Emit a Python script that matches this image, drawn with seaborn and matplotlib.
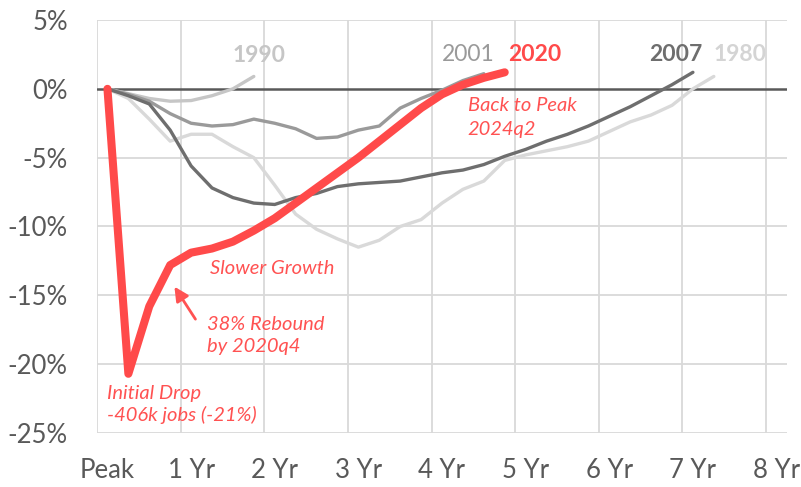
import numpy as np
import pandas as pd
import matplotlib
matplotlib.use("Agg")
import matplotlib.pyplot as plt
import seaborn as sns

# ---- data (percent change in jobs since peak, quarterly) ----
x_labels = ["Peak", "1 Yr", "2 Yr", "3 Yr", "4 Yr", "5 Yr", "6 Yr", "7 Yr", "8 Yr"]

r1980 = [0, -0.7, -2.2, -3.8, -3.3, -3.3, -4.2, -5.0, -7.0, -9.1, -10.2, -10.9,
         -11.5, -11.0, -10.0, -9.5, -8.3, -7.3, -6.7, -5.2, -4.8, -4.5, -4.2,
         -3.8, -3.1, -2.4, -1.9, -1.2, 0.0, 0.9]
r1990 = [0, -0.35, -0.7, -0.9, -0.85, -0.5, 0.0, 0.9]
r2001 = [0, -0.4, -0.9, -1.8, -2.5, -2.7, -2.6, -2.2, -2.5, -2.9, -3.6, -3.5,
         -3.0, -2.7, -1.4, -0.7, -0.1, 0.6, 1.1]
r2007 = [0, -0.5, -1.1, -3.0, -5.6, -7.2, -7.9, -8.3, -8.4, -7.9, -7.6, -7.1,
         -6.9, -6.8, -6.7, -6.4, -6.1, -5.9, -5.5, -4.9, -4.4, -3.8, -3.3,
         -2.7, -2.0, -1.3, -0.5, 0.3, 1.2]
r2020 = [0, -20.7, -15.8, -12.8, -11.9, -11.6, -11.1, -10.3, -9.4, -8.3, -7.2,
         -6.1, -5.0, -3.8, -2.6, -1.4, -0.4, 0.3, 0.8, 1.2]

series_names = ["1980", "1990", "2001", "2007", "2020"]
series_vals = [r1980, r1990, r2001, r2007, r2020]

frames = []
for name, vals in zip(series_names, series_vals):
    frames.append(pd.DataFrame({"q": np.arange(len(vals)), "pct": vals, "rec": name}))
df = pd.concat(frames, ignore_index=True)

# ---- styling ----
sns.set_theme(style="white")
plt.rcParams["font.family"] = ["Lato", "DejaVu Sans"]

RED = "#ff4a4a"
TXT_RED = "#ff5252"
colors = {"1980": "#d9d9d9", "1990": "#c6c6c6", "2001": "#9a9a9a",
          "2007": "#6e6e6e", "2020": RED}
widths = {"1980": 2.4, "1990": 2.4, "2001": 2.4, "2007": 2.4, "2020": 5.8}

fig = plt.figure(figsize=(8.01, 4.87), dpi=100)
ax = fig.add_axes([97 / 801, 1 - 433 / 487, (787 - 97) / 801, (433 - 20) / 487])

ax.set_xlim(-0.5, 32.5)
ax.set_ylim(-25, 5)

# grid
for k in range(9):
    ax.axvline(-0.5 + 4 * k, color="#d9d9d9", lw=1.3, zorder=0)
for v in range(-25, 6, 5):
    if v != 0:
        ax.axhline(v, color="#d9d9d9", lw=1.3, zorder=0)
ax.axhline(0, color="#595959", lw=1.8, zorder=1)

for name in series_names:
    sub = df[df["rec"] == name]
    sns.lineplot(data=sub, x="q", y="pct", ax=ax, color=colors[name],
                 linewidth=widths[name], zorder=3 if name == "2020" else 2,
                 solid_capstyle="round", solid_joinstyle="round", legend=False)

ax.set_xlabel("")
ax.set_ylabel("")
ax.set_xticks(np.arange(0, 33, 4))
ax.set_xticklabels(x_labels)
yt = np.arange(-25, 6, 5)
ax.set_yticks(yt)
ax.set_yticklabels([f"{v}%" for v in yt])
ax.tick_params(axis="both", length=0, labelsize=18.5, colors="#595959")
ax.tick_params(axis="x", pad=18)
ax.tick_params(axis="y", pad=21)
for s in ax.spines.values():
    s.set_visible(False)

# series labels
lab_kw = dict(ha="center", va="baseline", fontsize=16.5)
ax.text(7.24, 1.95, "1990", color="#c6c6c6", fontweight="bold", **lab_kw)
ax.text(17.27, 2.05, "2001", color="#9a9a9a", **lab_kw)
ax.text(20.45, 2.05, "2020", color=RED, fontweight="bold", **lab_kw)
ax.text(27.16, 2.0, "2007", color="#6e6e6e", fontweight="bold", **lab_kw)
ax.text(30.27, 2.0, "1980", color="#d4d4d4", fontweight="bold", **lab_kw)

# annotations
ann_kw = dict(ha="left", va="baseline", fontsize=14.5, style="italic", color=TXT_RED)
ax.text(17.22, -1.6, "Back to Peak", **ann_kw)
ax.text(17.22, -3.33, "2024q2", **ann_kw)
ax.text(4.9, -13.48, "Slower Growth", **ann_kw)
ax.text(4.75, -17.5, "38% Rebound", **ann_kw)
ax.text(4.75, -19.1, "by 2020q4", **ann_kw)
ax.text(-0.02, -22.5, "Initial Drop", **ann_kw)
ax.text(-0.02, -24.1, "-406k jobs (-21%)", **ann_kw)

ax.annotate("", xy=(3.13, -14.2), xytext=(4.28, -16.9),
            arrowprops=dict(arrowstyle="-|>,head_length=0.7,head_width=0.35",
                            color=TXT_RED, lw=2), zorder=4)

fig.savefig("out.png", dpi=100)
